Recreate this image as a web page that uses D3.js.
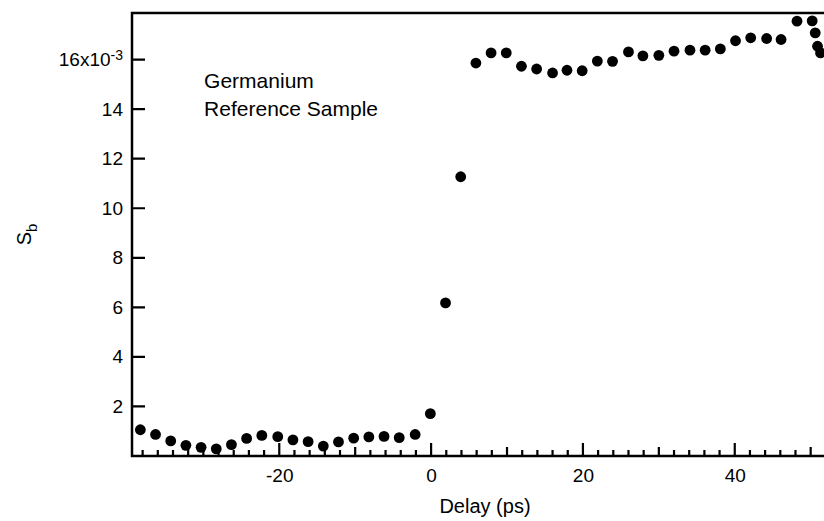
<!DOCTYPE html>
<html>
<head>
<meta charset="utf-8">
<script src="https://cdn.jsdelivr.net/npm/d3@7"></script>
<style>
  body { margin: 0; background: #fff; }
  svg { display: block; font-family: "Liberation Sans", Arial, sans-serif; }
  .axis text { font-size: 19px; fill: #000; }
  .axis path { display: none; }
</style>
</head>
<body>
<div id="chart"></div>
<script>
/***** data *****/
// delay (ps)
var delays = [-38.3, -36.3, -34.3, -32.3, -30.3, -28.3, -26.3, -24.3, -22.3, -20.2,
  -18.2, -16.2, -14.2, -12.2, -10.2, -8.2, -6.2, -4.2, -2.1, -0.1,
  1.9, 3.9, 5.9, 7.9, 9.9, 11.9, 13.9, 16.0, 17.9, 19.9,
  21.9, 23.9, 26.0, 27.9, 30.0, 32.0, 34.1, 36.1, 38.1, 40.1,
  42.1, 44.2, 46.1, 48.2, 50.2, 50.6, 50.9, 51.3];
// S_b in units of 1e-3
var sbValues = [1.06, 0.87, 0.61, 0.43, 0.35, 0.29, 0.46, 0.71, 0.83, 0.78,
  0.65, 0.58, 0.40, 0.57, 0.72, 0.77, 0.79, 0.74, 0.87, 1.71,
  6.18, 11.27, 15.86, 16.27, 16.27, 15.73, 15.62, 15.46, 15.57, 15.55,
  15.94, 15.93, 16.31, 16.15, 16.17, 16.34, 16.38, 16.38, 16.43, 16.76,
  16.88, 16.85, 16.81, 17.55, 17.56, 17.08, 16.54, 16.27];

// ticks
var yTicks = [2, 4, 6, 8, 10, 12, 14, 16];
var xMajorTicks = [-20, 0, 20, 40];
var xMidTicks = [-30, -10, 10, 30, 50];
var xMinorTicks = [-38, -36, -34, -32, -28, -26, -24, -22, -18, -16, -14, -12, -8, -6, -4, -2,
  2, 4, 6, 8, 12, 14, 16, 18, 22, 24, 26, 28, 32, 34, 36, 38, 42, 44, 46, 48, 52];

var points = delays.map(function(d, i) { return {x: d, y: sbValues[i]}; });

/***** chart *****/
var margin = {top: 13, right: -14, bottom: 65, left: 132};
var innerW = 824 - margin.left - margin.right;
var innerH = 521 - margin.top - margin.bottom;

var svg = d3.select("#chart").append("svg").attr("width", 824).attr("height", 521);
var g = svg.append("g").attr("transform", "translate(" + margin.left + "," + margin.top + ")");

//scales
var x = d3.scaleLinear().domain([-39.4, 53.6]).range([0, innerW]);
var y = d3.scaleLinear().domain([0, 17.88]).range([innerH, 0]);

//plain hyphen, not the unicode minus
var formatNum = function(d) { return String(d); };

//axes only for the labels, tick marks drawn below as paths
var yG = g.append("g")
  .attr("class", "y axis")
  .call(d3.axisLeft(y).tickValues(yTicks).tickFormat(formatNum).tickSize(0).tickPadding(9))
;
g.append("g")
  .attr("class", "x axis")
  .attr("transform", "translate(0," + innerH + ")")
  .call(d3.axisBottom(x).tickValues(xMajorTicks).tickFormat(formatNum).tickSize(0).tickPadding(13))
;

// top y label gets the x10^-3 exponent
var topLabel = yG.selectAll(".tick text").filter(function(d) { return d === 16; });
topLabel.text("16x10");
topLabel.append("tspan").attr("dy", "-0.45em").style("font-size", "14px").text("-3");

//points
g.append("g")
  .selectAll("circle")
  .data(points)
  .enter()
  .append("circle")
  .attr("cx", function(d) { return x(d.x); })
  .attr("cy", function(d) { return y(d.y); })
  .attr("r", 5.4)
  .attr("fill", "#000")
;

//frame
g.append("path")
  .attr("d", "M" + innerW + ",0H0V" + innerH + "H" + innerW)
  .attr("fill", "none")
  .attr("stroke", "#000")
  .attr("stroke-width", 2.5)
;

//inward tick marks
var xTickPath = function(vals, len) {
  return vals.map(function(v) { return "M" + x(v) + "," + innerH + "v" + (-len); }).join("");
};
var yTickPath = yTicks.map(function(v) { return "M0," + y(v) + "h13"; }).join("");
var tickMarks = [
  xTickPath(xMajorTicks, 13),
  xTickPath(xMidTicks, 9),
  xTickPath(xMinorTicks, 6),
  yTickPath
];
g.append("g")
  .selectAll("path")
  .data(tickMarks)
  .enter()
  .append("path")
  .attr("d", function(d) { return d; })
  .attr("fill", "none")
  .attr("stroke", "#000")
  .attr("stroke-width", 2.2)
;

//annotation
var note = g.append("text")
  .attr("y", 75)
  .style("font-size", "21px")
;
note.append("tspan").attr("x", x(-29.9)).text("Germanium");
note.append("tspan").attr("x", x(-29.9)).attr("dy", 28).text("Reference Sample");

//axis titles
g.append("text")
  .attr("x", innerW / 2)
  .attr("y", innerH + 57)
  .attr("text-anchor", "middle")
  .style("font-size", "20px")
  .text("Delay (ps)")
;

var yTitle = svg.append("text")
  .attr("transform", "translate(31," + (margin.top + innerH / 2) + ") rotate(-90)")
  .attr("text-anchor", "middle")
  .style("font-size", "20px")
;
yTitle.append("tspan").text("S");
yTitle.append("tspan").attr("dy", 6).style("font-size", "15px").text("b");
</script>
</body>
</html>
